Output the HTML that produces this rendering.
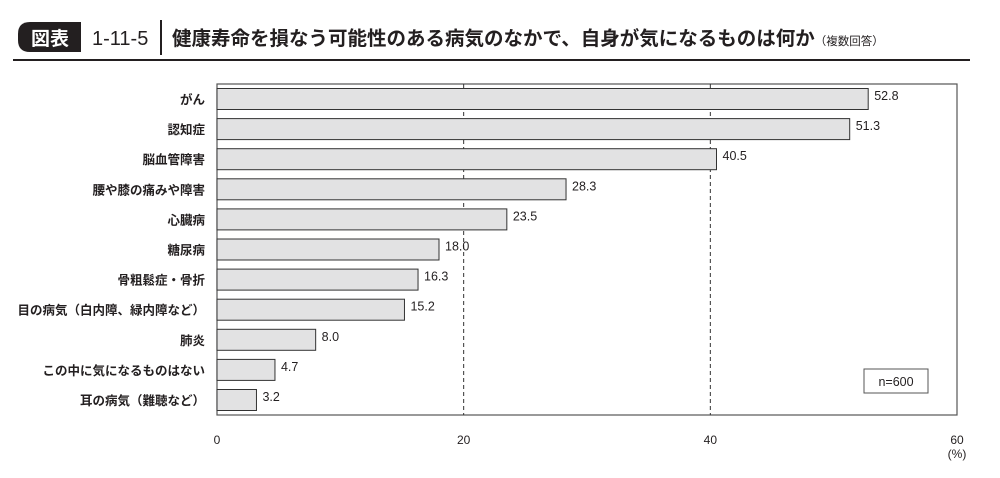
<!DOCTYPE html>
<html><head><meta charset="utf-8"><style>
body{margin:0;background:#fff;width:1000px;height:473px;overflow:hidden;font-family:"Liberation Sans","Noto Sans CJK JP",sans-serif;}
</style></head><body>
<svg width="1000" height="473" xmlns="http://www.w3.org/2000/svg" font-family="Liberation Sans, Noto Sans CJK JP, sans-serif">
<g>
<path d="M30,22 H81 V52 H30 Q18,52 18,40 V34 Q18,22 30,22 Z" fill="#231f20"/>
<text x="50" y="45" font-size="19" fill="#fff" text-anchor="middle" font-weight="bold">図表</text>
<text x="92" y="45" font-size="20" fill="#231f20">1-11-5</text>
<rect x="160" y="20" width="2" height="35" fill="#231f20"/>
<text x="172" y="45" font-size="19.5" font-weight="bold" fill="#231f20">健康寿命を損なう可能性のある病気のなかで、自身が気になるものは何か<tspan font-size="11.5" font-weight="normal">（複数回答）</tspan></text>
<rect x="13" y="59" width="957" height="2" fill="#231f20"/>
</g>
<g id="plot"></g>
</svg>
<script>
const categories=["がん","認知症","脳血管障害","腰や膝の痛みや障害","心臓病","糖尿病","骨粗鬆症・骨折","目の病気（白内障、緑内障など）","肺炎","この中に気になるものはない","耳の病気（難聴など）"];
const values=[52.8,51.3,40.5,28.3,23.5,18.0,16.3,15.2,8.0,4.7,3.2];
const ticks=[0,20,40,60];
const NS="http://www.w3.org/2000/svg";
const g=document.getElementById('plot');
const x0=217,x1=957,yTop=84,yBottom=415,maxV=60;
const xs=v=>x0+(x1-x0)*v/maxV;
const rowY=i=>99+i*30.1;
function mk(t,a){const e=document.createElementNS(NS,t);for(const k in a)e.setAttribute(k,a[k]);g.appendChild(e);return e;}
let box=mk('rect',{x:x0,y:yTop,width:x1-x0,height:yBottom-yTop,fill:'none',stroke:'#555','stroke-width':1.2});


ticks.slice(1,-1).forEach(t=>{
 const l=mk('line',{x1:xs(t),x2:xs(t),y1:yTop,y2:yBottom,stroke:'#333','stroke-dasharray':'4,3','stroke-width':1});
 
 
});
ticks.forEach(t=>{
 const tx=mk('text',{x:xs(t),y:444,'font-size':12,'text-anchor':'middle',fill:'#231f20'});tx.textContent=t;
 
 
});
const u=mk('text',{x:xs(60),y:458,'font-size':12,'text-anchor':'middle',fill:'#231f20'});u.textContent='(%)';


categories.forEach((c,i)=>{
 const y=rowY(i);
 const b=mk('rect',{x:x0,y:y-10.5,width:xs(values[i])-x0,height:21,fill:'#e2e2e3',stroke:'#333','stroke-width':1});
 
 
 const v=mk('text',{x:xs(values[i])+6,y:y+1,'font-size':12.5,fill:'#231f20'});v.textContent=values[i].toFixed(1);
 
 
 const l=mk('text',{x:205,y:y+5,'font-size':12.5,'font-weight':'bold','text-anchor':'end',fill:'#231f20'});l.textContent=c;
 
 
});
const nb=mk('rect',{x:864,y:369,width:64,height:24,fill:'#fff',stroke:'#555','stroke-width':1});


const nt=mk('text',{x:896,y:386,'font-size':12.5,'text-anchor':'middle',fill:'#231f20'});nt.textContent='n=600';


</script>
</body></html>
